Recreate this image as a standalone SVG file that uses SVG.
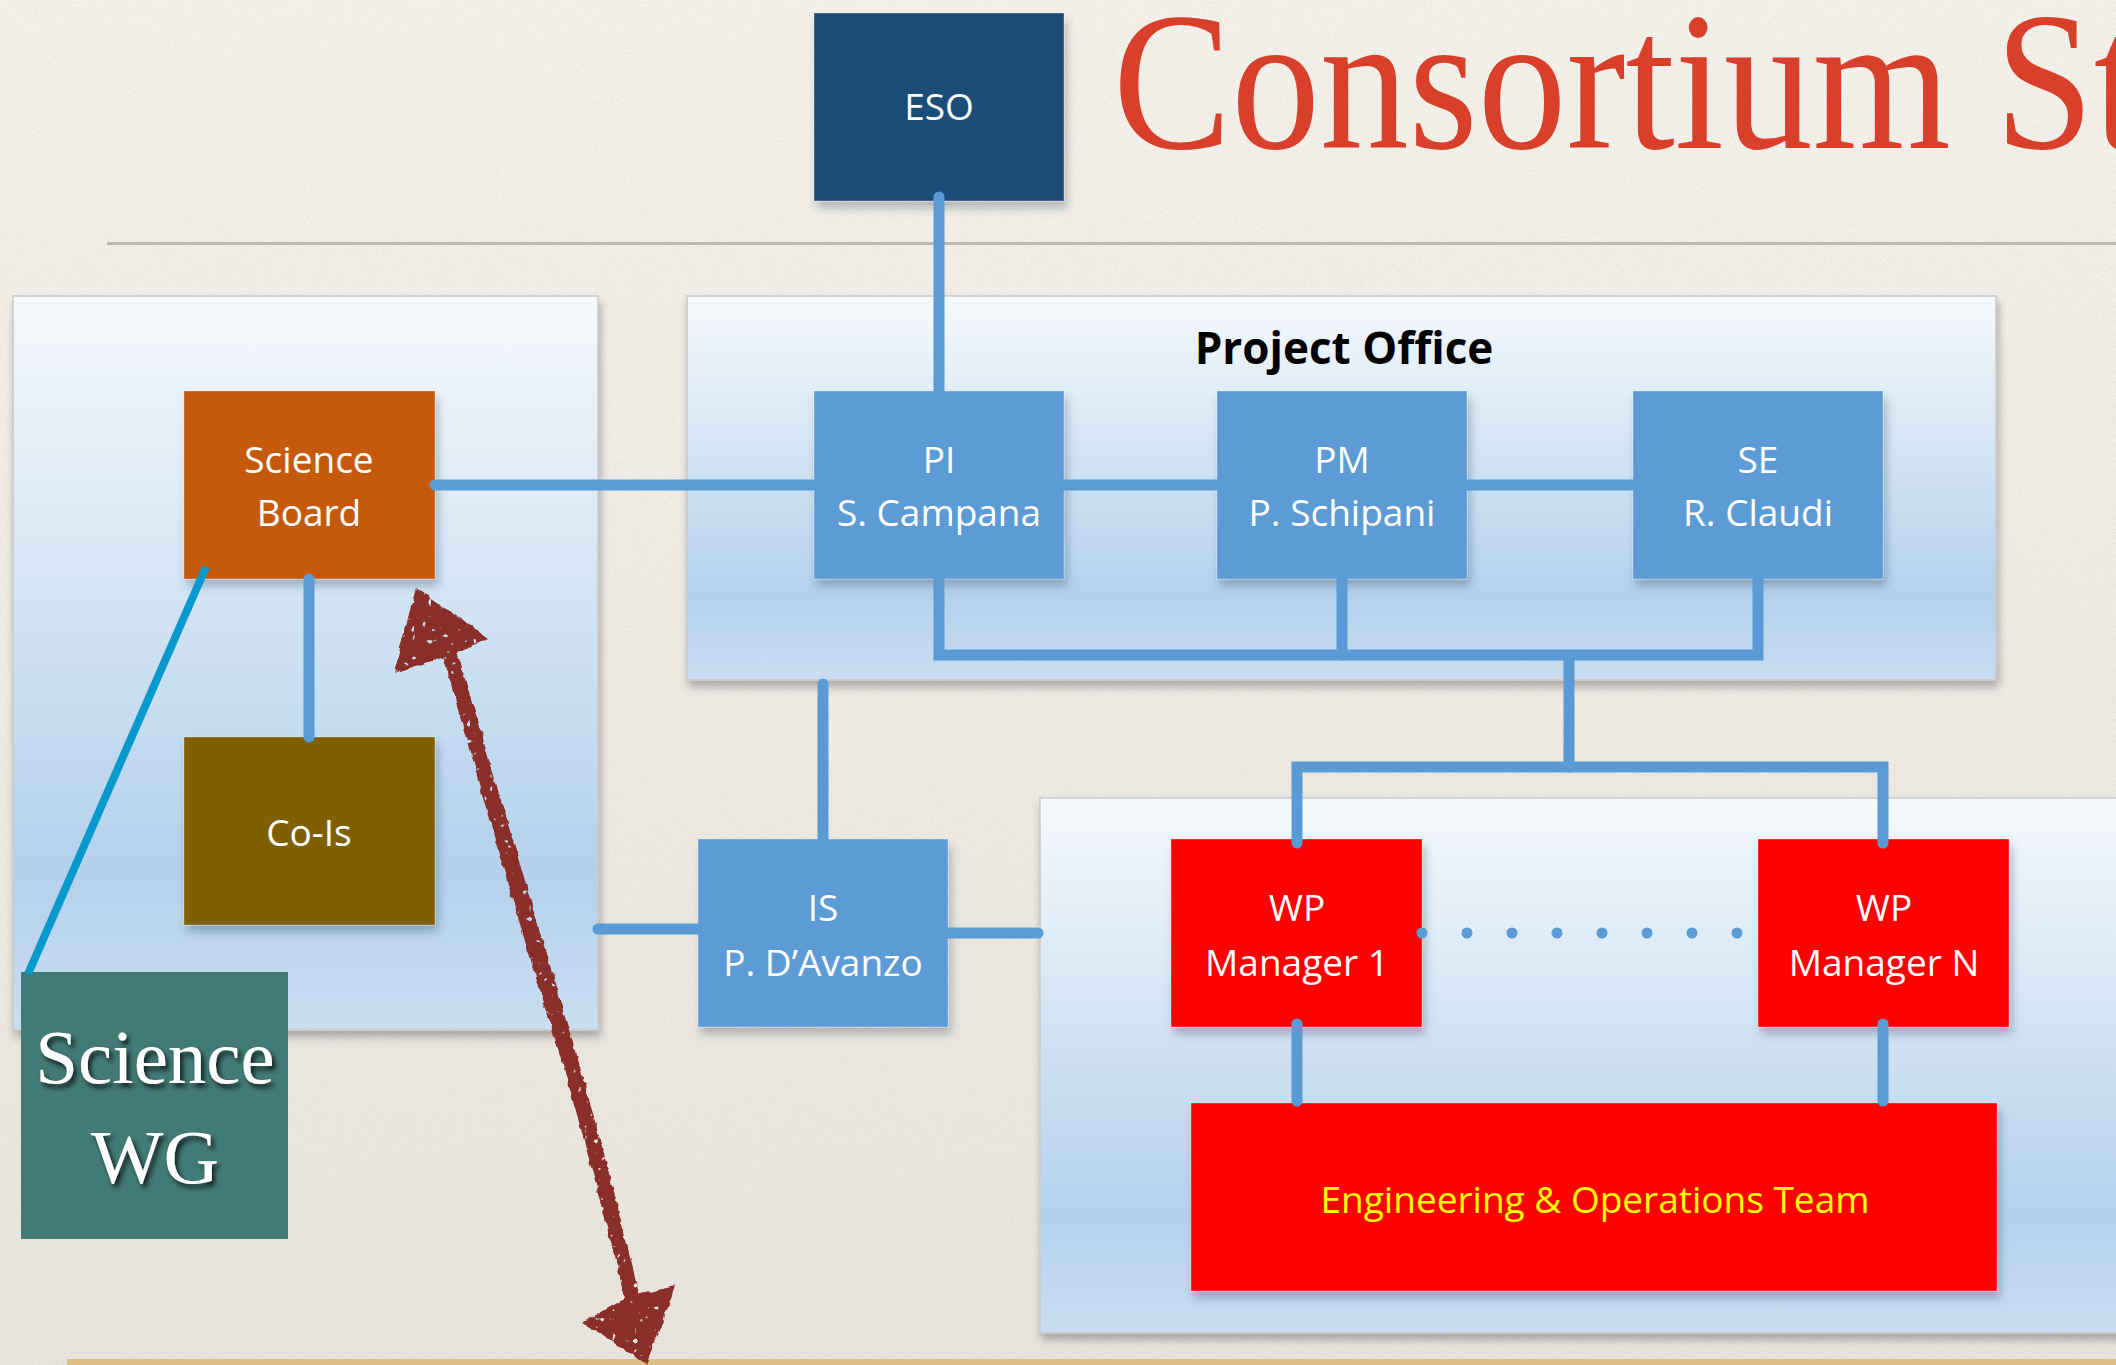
<svg xmlns="http://www.w3.org/2000/svg" width="2116" height="1365" viewBox="0 0 2116 1365">
  <defs>
    <linearGradient id="paperGrad" x1="0" y1="0" x2="0" y2="1">
      <stop offset="0" stop-color="#f6f3ed"/>
      <stop offset="1" stop-color="#e9e6e0"/>
    </linearGradient>
    <linearGradient id="panelGrad" x1="0" y1="0" x2="0" y2="1">
      <stop offset="0" stop-color="#f5f9fc"/>
      <stop offset="0.78" stop-color="#b4d1ec"/>
      <stop offset="1" stop-color="#c8ddf1"/>
    </linearGradient>
    <filter id="paperNoise" x="0" y="0" width="100%" height="100%">
      <feTurbulence type="fractalNoise" baseFrequency="0.9" numOctaves="3" seed="11"/>
      <feColorMatrix type="matrix" values="0 0 0 0 0.55  0 0 0 0 0.5  0 0 0 0 0.42  0 0 0 0.5 -0.18"/>
    </filter>
    <filter id="panelShadow" x="-5%" y="-5%" width="110%" height="115%">
      <feDropShadow dx="2" dy="6" stdDeviation="4" flood-color="#000" flood-opacity="0.28"/>
    </filter>
    <filter id="boxShadow" x="-10%" y="-10%" width="125%" height="130%">
      <feDropShadow dx="3" dy="7" stdDeviation="4" flood-color="#1b3550" flood-opacity="0.3"/>
    </filter>
    <filter id="textShadow" x="-10%" y="-20%" width="130%" height="150%">
      <feDropShadow dx="3" dy="4" stdDeviation="2.5" flood-color="#000" flood-opacity="0.75"/>
    </filter>
    <!-- rough chalk stroke: wobbly edges plus a few bare specks -->
    <filter id="chalk" x="-30%" y="-5%" width="160%" height="110%">
      <feTurbulence type="fractalNoise" baseFrequency="0.1" numOctaves="2" seed="4" result="warp"/>
      <feDisplacementMap in="SourceGraphic" in2="warp" scale="6" xChannelSelector="R" yChannelSelector="G" result="rough"/>
      <feTurbulence type="fractalNoise" baseFrequency="0.18" numOctaves="1" seed="9" result="speck"/>
      <feColorMatrix in="speck" type="matrix" values="0 0 0 0 0  0 0 0 0 0  0 0 0 0 0  0 0 0 -16 11.8" result="holes"/>
      <feComposite in="rough" in2="holes" operator="in"/>
    </filter>
    <style>
      .panel { fill: url(#panelGrad); stroke: #c9c9c9; stroke-width: 1.5; filter: url(#panelShadow); }
      .box { filter: url(#boxShadow); stroke: #ffffff; stroke-opacity: 0.3; stroke-width: 1; }
      .blue { fill: #5b9bd5; }
      .red { fill: #ff0000; }
      .label { font-family: "Open Sans", "Liberation Sans", sans-serif; font-size: 37px; fill: #ffffff; text-anchor: middle; }
      .wire { fill: none; stroke: #5b9bd5; stroke-width: 11; stroke-linecap: round; stroke-linejoin: miter; }
    </style>
  </defs>

  <!-- paper background -->
  <rect width="2116" height="1365" fill="url(#paperGrad)"/>
  <rect width="2116" height="1365" filter="url(#paperNoise)"/>

  <!-- title and rule -->
  <text transform="translate(1113,148) scale(0.896,1)" font-family="Liberation Serif, serif" font-size="198" fill="#d9402b">Consortium St</text>
  <line x1="107" y1="243.5" x2="2116" y2="243.5" stroke="#bdb9b2" stroke-width="3"/>

  <!-- grouping panels -->
  <g id="science-panel"><rect class="panel" x="13" y="296" width="585" height="734"/></g>
  <g id="project-office">
    <rect class="panel" x="687" y="296" width="1309" height="384"/>
    <text x="1344" y="364" font-family="Open Sans, Liberation Sans, sans-serif" font-size="44" font-weight="bold" fill="#000" text-anchor="middle">Project Office</text>
  </g>
  <g id="engineering-panel"><rect class="panel" x="1040" y="798" width="1090" height="535"/></g>

  <!-- bottom rule -->
  <rect x="67" y="1359" width="2049" height="6" fill="#dcbd82"/>

  <!-- nodes -->
  <g id="eso">
    <rect class="box" x="814" y="13" width="250" height="188" fill="#1f4e79"/>
    <text class="label" x="939" y="120">ESO</text>
  </g>
  <g id="science-board">
    <rect class="box" x="184" y="391" width="251" height="188" fill="#c55a11"/>
    <text class="label" x="309" y="473">Science</text>
    <text class="label" x="309" y="526">Board</text>
  </g>
  <g id="co-is">
    <rect class="box" x="184" y="737" width="251" height="188" fill="#7f6000"/>
    <text class="label" x="309" y="846">Co-Is</text>
  </g>
  <g id="science-wg">
    <rect x="21" y="972" width="267" height="267" fill="#427a76"/>
    <g font-family="Liberation Serif, serif" font-size="77" fill="#ffffff" text-anchor="middle" filter="url(#textShadow)">
      <text x="155" y="1083">Science</text>
      <text x="155" y="1183">WG</text>
    </g>
  </g>
  <g id="pi">
    <rect class="box blue" x="814" y="391" width="250" height="188"/>
    <text class="label" x="939" y="473">PI</text>
    <text class="label" x="939" y="526">S. Campana</text>
  </g>
  <g id="pm">
    <rect class="box blue" x="1217" y="391" width="250" height="188"/>
    <text class="label" x="1342" y="473">PM</text>
    <text class="label" x="1342" y="526">P. Schipani</text>
  </g>
  <g id="se">
    <rect class="box blue" x="1633" y="391" width="250" height="188"/>
    <text class="label" x="1758" y="473">SE</text>
    <text class="label" x="1758" y="526">R. Claudi</text>
  </g>
  <g id="is">
    <rect class="box blue" x="698" y="839" width="250" height="188"/>
    <text class="label" x="823" y="921">IS</text>
    <text class="label" x="823" y="976">P. D’Avanzo</text>
  </g>
  <g id="wp-manager-1">
    <rect class="box red" x="1171" y="839" width="251" height="188"/>
    <text class="label" x="1297" y="921">WP</text>
    <text class="label" x="1297" y="976">Manager 1</text>
  </g>
  <g id="wp-manager-n">
    <rect class="box red" x="1758" y="839" width="251" height="188"/>
    <text class="label" x="1884" y="921">WP</text>
    <text class="label" x="1884" y="976">Manager N</text>
  </g>
  <g id="eng-ops-team">
    <rect class="box red" x="1191" y="1103" width="806" height="188"/>
    <text class="label" x="1595" y="1213" font-size="38" style="fill:#ffff00">Engineering &amp; Operations Team</text>
  </g>

  <!-- connectors -->
  <g id="connectors">
    <path class="wire" d="M939 197 V391"/>
    <path class="wire" d="M435 485 H814"/>
    <path class="wire" d="M1064 485 H1217"/>
    <path class="wire" d="M1467 485 H1633"/>
    <path class="wire" d="M939 579 V655 H1758 V579"/>
    <path class="wire" d="M1342 579 V655"/>
    <path class="wire" d="M1569 655 V767"/>
    <path class="wire" d="M1297 843 V767 H1883 V843"/>
    <path class="wire" d="M823 684 V839"/>
    <path class="wire" d="M598 929 H698"/>
    <path class="wire" d="M948 933 H1038"/>
    <path class="wire" d="M309 579 V737"/>
    <path class="wire" d="M1297 1024 V1101"/>
    <path class="wire" d="M1883 1024 V1101"/>
    <path class="wire" d="M1422 933 H1740" stroke-width="10" stroke-dasharray="0 45"/>
    <line x1="206" y1="567" x2="28" y2="974" stroke="#0599ce" stroke-width="8"/>
  </g>

  <!-- hand-drawn double arrow -->
  <g id="chalk-arrow" fill="#8a2e2a" filter="url(#chalk)">
    <path d="M442 652 C472 760 500 860 540 990 C575 1100 600 1200 626 1302 L640 1298 C616 1196 590 1098 556 986 C518 858 488 756 456 648 Z"/>
    <path d="M416 588 L488 638 L460 652 L394 673 L402 640 Z"/>
    <path d="M582 1323 L628 1297 L675 1286 L662 1325 L646 1365 L614 1342 Z"/>
  </g>
</svg>
